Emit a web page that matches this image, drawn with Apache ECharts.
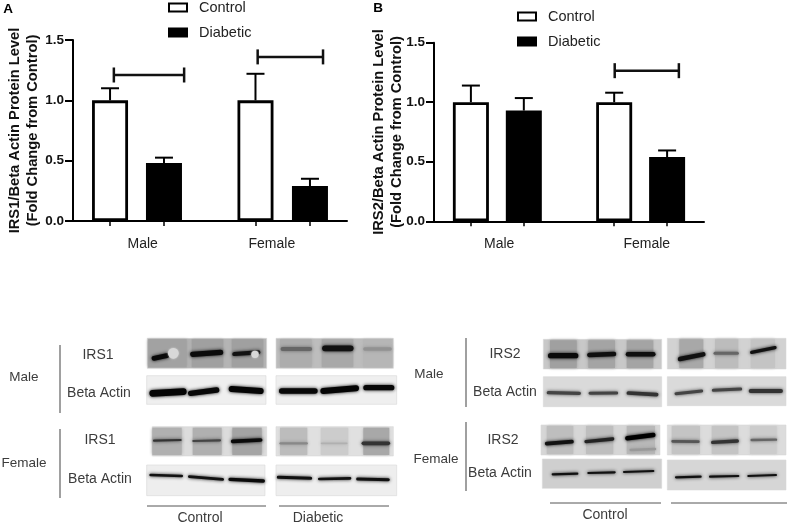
<!DOCTYPE html>
<html><head><meta charset="utf-8">
<style>html,body{margin:0;padding:0;background:#fff}#c{width:788px;height:525px}</style>
<script src="https://cdn.jsdelivr.net/npm/echarts@6/dist/echarts.min.js"></script></head>
<body><div id="c"></div>
<script>
const categories = ['Male', 'Female'];
const yTicks = [0, 0.5, 1.0, 1.5];
const controlA = [1.0, 1.0];
const diabeticA = [0.48, 0.29];
const controlErrA = [1.10, 1.22];
const diabeticErrA = [0.525, 0.35];
const bracketLevelA = [1.21, 1.36];
const controlB = [1.0, 1.0];
const diabeticB = [0.93, 0.54];
const controlErrB = [1.14, 1.08];
const diabeticErrB = [1.035, 0.595];
const bracketLevelB = [null, 1.265];

// x layout, in bar-slot units, for each panel
const layoutA = {grid:[73,347,40,221], xMax:5.03, ctrl:[0.68,3.35], dia:[1.67,4.35], labels:[1.28,3.65], br:[[0.75,2.04],[3.39,4.59]]};
const layoutB = {grid:[434,704,42.7,221.3], xMax:5.05, ctrl:[0.69,3.37], dia:[1.68,4.36], labels:[1.22,3.98], br:[null,[3.38,4.58]]};

const font = '"Liberation Sans", Arial, sans-serif';

function errSeries(idx, pos, base, top, w) {
  return {type:'custom', xAxisIndex:idx, yAxisIndex:idx, z:1, silent:true,
    data: pos.map((x,i)=>[x, base[i], top[i]]),
    renderItem(p, api){
      const a = api.coord([api.value(0), api.value(1)]), b = api.coord([api.value(0), api.value(2)]);
      const s = {stroke:'#000', lineWidth:2};
      return {type:'group', children:[
        {type:'line', shape:{x1:a[0],y1:a[1],x2:b[0],y2:b[1]}, style:s},
        {type:'line', shape:{x1:b[0]-9,y1:b[1],x2:b[0]+9,y2:b[1]}, style:s}]};
    }};
}
function brSeries(idx, br, lev) {
  const d = []; br.forEach((b,i)=>{ if (b) d.push([b[0], b[1], lev[i]]); });
  return {type:'custom', xAxisIndex:idx, yAxisIndex:idx, z:3, silent:true, data:d,
    renderItem(p, api){
      const a = api.coord([api.value(0), api.value(2)]), b = api.coord([api.value(1), api.value(2)]);
      const s = {stroke:'#111', lineWidth:2.5};
      return {type:'group', children:[
        {type:'line', shape:{x1:a[0],y1:a[1],x2:b[0],y2:b[1]}, style:s},
        {type:'line', shape:{x1:a[0],y1:a[1]-7.5,x2:a[0],y2:a[1]+7.5}, style:s},
        {type:'line', shape:{x1:b[0],y1:b[1]-7.5,x2:b[0],y2:b[1]+7.5}, style:s}]};
    }};
}
function barSeries(idx, name, pos, vals, fill) {
  return {type:'bar', name, xAxisIndex:idx, yAxisIndex:idx, barWidth:36, barGap:'-100%', z:2,
    itemStyle:{color:fill, borderColor:'#000', borderWidth:2.8},
    data: pos.map((x,i)=>[x, vals[i]])};
}
function gridOf(l){ return {left:l.grid[0], width:l.grid[1]-l.grid[0], top:l.grid[2], height:l.grid[3]-l.grid[2], containLabel:false}; }
function xAxisOf(idx, l){
  return {type:'value', gridIndex:idx, min:0, max:l.xMax, splitLine:{show:false},
    axisLine:{show:true, onZero:false, lineStyle:{color:'#000', width:2}},
    axisTick:{show:true, length:5, lineStyle:{color:'#000', width:1.5}, customValues:l.ctrl.concat(l.dia)},
    axisLabel:{customValues:l.labels, margin:16, color:'#222', fontFamily:font, fontSize:14,
      formatter:v=>categories[l.labels.indexOf(v)]||''}};
}
function yAxisOf(idx, name, gap){
  return {type:'value', gridIndex:idx, min:yTicks[0], max:yTicks[3], interval:0.5, splitLine:{show:false},
    axisLine:{show:true, lineStyle:{color:'#000', width:2}},
    axisTick:{show:true, length:8, lineStyle:{color:'#000', width:2}},
    axisLabel:{margin:9, color:'#111', fontFamily:font, fontSize:13.5, fontWeight:'bold', formatter:v=>v.toFixed(1)},
    name, nameLocation:'middle', nameGap:gap, nameRotate:90, nameMoveOverlap:false,
    nameTextStyle:{color:'#111', fontFamily:font, fontSize:14.7, fontWeight:'bold', lineHeight:18}};
}
const legendOf = (left, top) => ({show:true, orient:'vertical', left, top, padding:0, icon:'rect', itemWidth:18, itemHeight:8, itemGap:10,
  data:['Control','Diabetic'], textStyle:{color:'#222', fontFamily:font, fontSize:14.5, padding:[0,0,0,7]}, selectedMode:false});

// ----- western-blot panels, drawn as decoration (crop units: 3 per pixel)
const P = (o,x1,y1,x2,y2,bg,lanes,bands,blobs)=>({o,x1,y1,x2,y2,bg,lanes:lanes||[],bands:bands||[],blobs:blobs||[]});
const L=[0,325], R=[400,325];
const panels = [
 P(L,442,40,800,130,'#b4b4b4',[[445,560,'#a2a2a2'],[575,670,'#a0a0a0'],[695,790,'#a0a0a0']],
   [[[462,100,500,92],16,'#0a0a0a'],[[578,88,662,82],17,'#0a0a0a'],[[703,87,775,82],14,'#111']],[[765,88,11],[520,85,16]]),
 P(L,828,40,1180,130,'#bdbdbd',[[840,935,'#adadad'],[965,1060,'#a8a8a8'],[1090,1175,'#b6b6b6']],
   [[[848,72,930,72],14,'#666'],[[975,70,1052,70],19,'#111'],[[1095,72,1170,72],12,'#929292']]),
 P(L,440,152,798,238,'#efefef',[],[[[458,205,550,200],22,'#050505'],[[572,205,650,195],18,'#080808'],[[695,192,782,198],20,'#050505']]),
 P(L,828,152,1190,238,'#efefef',[],[[[845,198,945,198],18,'#080808'],[[970,198,1068,190],20,'#050505'],[[1098,188,1175,188],18,'#080808']]),
 P(L,457,305,800,393,'#dcdcdc',[[457,545,'#b0b0b0'],[578,665,'#b0b0b0'],[697,785,'#a4a4a4']],
   [[[462,347,542,345],7,'#333'],[[580,348,660,346],7,'#444'],[[698,349,782,345],12,'#0a0a0a']]),
 P(L,828,305,1180,393,'#e0e0e0',[[840,922,'#bcbcbc'],[962,1045,'#cccccc'],[1090,1168,'#a8a8a8']],
   [[[842,355,920,355],8,'#888'],[[965,355,1040,355],6,'#b0b0b0'],[[1090,355,1165,355],12,'#333']]),
 P(L,440,420,795,512,'#eeeeee',[],[[[452,450,545,453],9,'#111'],[[568,455,668,463],9,'#111'],[[690,463,790,468],11,'#0a0a0a']]),
 P(L,828,420,1190,512,'#eeeeee',[],[[[835,457,932,460],10,'#111'],[[958,462,1050,460],9,'#111'],[[1073,462,1165,464],10,'#111']]),
 P(R,430,43,785,132,'#c8c8c8',[[450,530,'#a0a0a0'],[565,645,'#a4a4a4'],[680,760,'#a4a4a4']],
   [[[452,92,527,92],18,'#0a0a0a'],[[568,90,642,87],15,'#0f0f0f'],[[684,88,760,88],15,'#0f0f0f']]),
 P(R,802,40,1158,132,'#d2d2d2',[[838,910,'#a8a8a8'],[945,1015,'#bcbcbc'],[1052,1125,'#c4c4c4']],
   [[[840,102,910,88],15,'#111'],[[945,85,1012,85],10,'#666'],[[1055,82,1125,68],11,'#111']]),
 P(R,430,155,785,245,'#dadada',[],[[[445,203,538,205],11,'#444'],[[570,205,650,204],10,'#444'],[[685,204,770,209],12,'#333']]),
 P(R,802,155,1158,242,'#dadada',[],[[[828,206,905,198],10,'#444'],[[940,196,1022,192],10,'#444'],[[1052,198,1143,198],13,'#333']]),
 P(R,423,300,780,390,'#d6d6d6',[[440,520,'#bebebe'],[558,640,'#bebebe'],[680,765,'#b8b8b8']],
   [[[440,356,516,350],12,'#111'],[[558,350,638,342],11,'#222'],[[682,340,760,330],15,'#000'],[[692,375,765,372],8,'#999']]),
 P(R,802,300,1158,390,'#dcdcdc',[[815,900,'#c4c4c4'],[935,1015,'#c4c4c4'],[1050,1130,'#cccccc']],
   [[[818,349,895,350],9,'#555'],[[938,352,1012,348],11,'#333'],[[1055,345,1128,344],8,'#666']]),
 P(R,427,402,785,490,'#cfcfcf',[],[[[458,448,532,446],7,'#111'],[[565,444,644,442],7,'#111'],[[672,441,760,438],7,'#111']]),
 P(R,802,405,1158,495,'#d6d6d6',[],[[[828,457,902,455],7,'#111'],[[930,455,1015,453],7,'#111'],[[1045,453,1128,450],7,'#111']]),
];
const gr = [];
panels.forEach(p=>{
  const X=v=>p.o[0]+v/3, Y=v=>p.o[1]+v/3;
  gr.push({type:'rect', silent:true, z:1, shape:{x:X(p.x1),y:Y(p.y1),width:(p.x2-p.x1)/3,height:(p.y2-p.y1)/3}, style:{fill:p.bg, stroke:'#d8d8d8', lineWidth:0.6}});
  p.lanes.forEach(l=>gr.push({type:'rect', silent:true, z:2, shape:{x:X(l[0]),y:Y(p.y1)+1,width:(l[1]-l[0])/3,height:(p.y2-p.y1)/3-2}, style:{fill:l[2], shadowBlur:3, shadowColor:l[2]}}));
  p.bands.forEach(b=>gr.push({type:'line', silent:true, z:3, shape:{x1:X(b[0][0]),y1:Y(b[0][1]),x2:X(b[0][2]),y2:Y(b[0][3])},
    style:{stroke:b[2], lineWidth:b[1]/3*0.9, lineCap:'round', shadowBlur:3.5, shadowColor:b[2]}}));
  p.blobs.forEach(b=>gr.push({type:'circle', silent:true, z:4, shape:{cx:X(b[0]),cy:Y(b[1]),r:b[2]/3}, style:{fill:'#d8d8d8', shadowBlur:2, shadowColor:'#ddd'}}));
});
const texts = [
 ['A',8,9,13.5,'bold','#000'],['B',378,8,13.5,'bold','#000'],
 ['Male',24,377,13.5],['Female',24,463,13.5],['IRS1',98,355,14],['Beta Actin',99,393,14],['IRS1',100,440,14],['Beta Actin',100,479,14],
 ['Control',200,518,14],['Diabetic',318,518,14],
 ['Male',429,374,13.5],['Female',436,459,13.5],['IRS2',505,354,14],['Beta Actin',505,392,14],['IRS2',503,440,14],['Beta Actin',500,473,14],
 ['Control',605,515,14],
];
texts.forEach(t=>gr.push({type:'text', silent:true, z:5, x:t[1], y:t[2], style:{text:t[0], align:'center', verticalAlign:'middle',
  fill:t[5]||'#3c3c3c', fontFamily:font, fontSize:t[3], fontWeight:t[4]||'normal'}}));
[[60,345,60,413],[60,429,60,498],[466,338,466,407],[466,422,466,491]].forEach(s=>gr.push({type:'line',silent:true,z:5,shape:{x1:s[0],y1:s[1],x2:s[2],y2:s[3]},style:{stroke:'#808080',lineWidth:1.5}}));
[[147,266,506],[279,389,506],[550,661,503],[671,787,503]].forEach(s=>gr.push({type:'line',silent:true,z:5,shape:{x1:s[0],y1:s[2],x2:s[1],y2:s[2]},style:{stroke:'#555',lineWidth:1}}));

const chart = echarts.init(document.getElementById('c'), null, {renderer:'canvas'});
chart.setOption({
  animation:false, backgroundColor:'#fff',
  grid:[gridOf(layoutA), gridOf(layoutB)],
  xAxis:[xAxisOf(0,layoutA), xAxisOf(1,layoutB)],
  yAxis:[yAxisOf(0,'IRS1/Beta Actin Protein Level\n(Fold Change from Control)',31),
         yAxisOf(1,'IRS2/Beta Actin Protein Level\n(Fold Change from Control)',28.5)],
  legend:[legendOf(168,0), legendOf(517,9)],
  series:[
    errSeries(0,layoutA.ctrl,controlA,controlErrA), errSeries(0,layoutA.dia,diabeticA,diabeticErrA),
    barSeries(0,'Control',layoutA.ctrl,controlA,'#fff'), barSeries(0,'Diabetic',layoutA.dia,diabeticA,'#000'),
    brSeries(0,layoutA.br,bracketLevelA),
    errSeries(1,layoutB.ctrl,controlB,controlErrB), errSeries(1,layoutB.dia,diabeticB,diabeticErrB),
    barSeries(1,'Control',layoutB.ctrl,controlB,'#fff'), barSeries(1,'Diabetic',layoutB.dia,diabeticB,'#000'),
    brSeries(1,layoutB.br,bracketLevelB),
  ],
  graphic:gr
});
</script></body></html>
